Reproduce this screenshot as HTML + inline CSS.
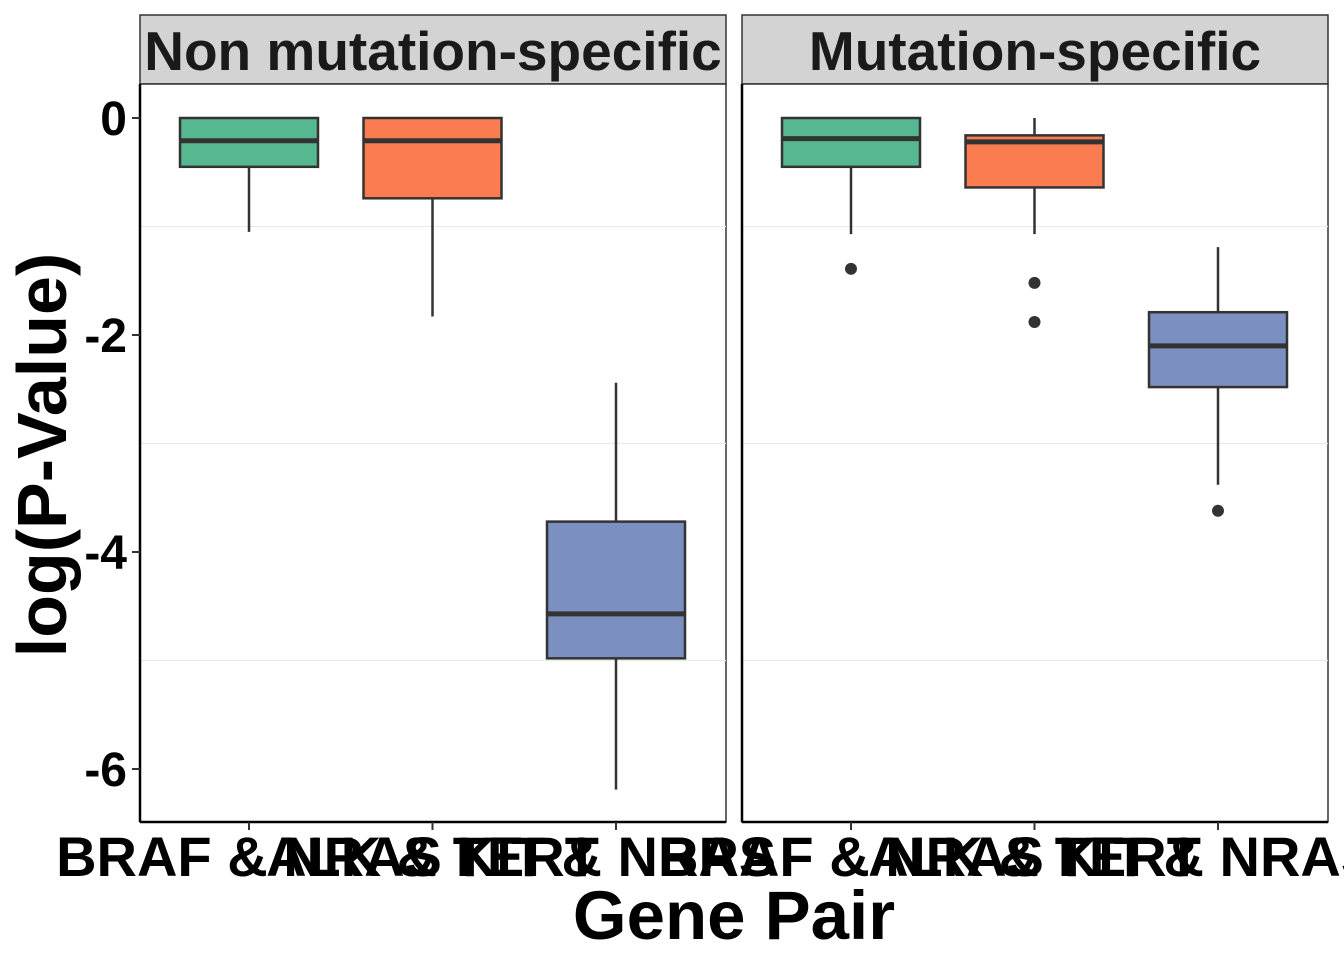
<!DOCTYPE html>
<html><head><meta charset="utf-8"><style>
body{margin:0;background:#fff}
svg{display:block;font-family:"Liberation Sans",Arial,sans-serif;font-weight:bold}
</style></head><body>
<svg id="c" width="1344" height="960"></svg>
<script>
const panels = ["Non mutation-specific", "Mutation-specific"];
const categories = ["BRAF & NRAS", "ALK & TERT", "KIT & NRAS"];
const colors = ["#56b891", "#fa7c50", "#7b8fc1"];
// per panel: [lowWhisker, q1, median, q3, highWhisker]
const statsP1 = [[-1.05,-0.45,-0.21,0,0],[-1.83,-0.74,-0.21,0,0],[-6.19,-4.98,-4.57,-3.72,-2.44]];
const statsP2 = [[-1.07,-0.45,-0.19,0,0],[-1.07,-0.64,-0.22,-0.16,0],[-3.38,-2.48,-2.1,-1.79,-1.19]];
const outliersP1 = [[],[],[]];
const outliersP2 = [[-1.39],[-1.52,-1.88],[-3.62]];
const yTicks = [0,-2,-4,-6];
const yMinor = [-1,-3,-5];

const NS="http://www.w3.org/2000/svg", svgEl=document.getElementById('c');
function mk(t,a,p){const e=document.createElementNS(NS,t);for(const k in a)e.setAttribute(k,a[k]);(p||svgEl).appendChild(e);return e;}
const yS=v=>118-v*108.5;
const pX=[140,742], pW=586, plotTop=84, plotBot=822;
const allStats=[statsP1,statsP2], allOut=[outliersP1,outliersP2];
panels.forEach((name,pi)=>{
  const x0=pX[pi];
  const g=mk('g',{});
  
  
  const strip=mk('rect',{x:x0,y:15,width:pW,height:69,fill:'#d3d3d3',stroke:'#333','stroke-width':1.5},g);
  
  
  const st=mk('text',{x:x0+pW/2,y:70,'text-anchor':'middle','font-size':55,fill:'#1a1a1a'},g);
  st.textContent=name;
  
  
  mk('rect',{x:x0,y:plotTop,width:pW,height:plotBot-plotTop,fill:'#fff',stroke:'#333','stroke-width':1.5},g);
  yMinor.forEach(v=>mk('line',{x1:x0,x2:x0+pW,y1:yS(v),y2:yS(v),stroke:'#ebebeb','stroke-width':1.2},g));
  mk('line',{x1:x0,x2:x0,y1:plotTop,y2:plotBot,stroke:'#000','stroke-width':2.5},g);
  mk('line',{x1:x0,x2:x0+pW,y1:plotBot,y2:plotBot,stroke:'#000','stroke-width':2.5},g);
  const xS=i=>x0+109+i*183.5;
  categories.forEach((c,i)=>{
    const s=allStats[pi][i], cx=xS(i), w=138;
    mk('line',{x1:cx,x2:cx,y1:yS(s[4]),y2:yS(s[3]),stroke:'#333','stroke-width':2.5},g);
    mk('line',{x1:cx,x2:cx,y1:yS(s[1]),y2:yS(s[0]),stroke:'#333','stroke-width':2.5},g);
    const b=mk('rect',{x:cx-w/2,y:yS(s[3]),width:w,height:yS(s[1])-yS(s[3]),fill:colors[i],stroke:'#333','stroke-width':2.5},g);
    
    
    mk('line',{x1:cx-w/2,x2:cx+w/2,y1:yS(s[2]),y2:yS(s[2]),stroke:'#333','stroke-width':5},g);
    allOut[pi][i].forEach(o=>{const d=mk('circle',{cx:cx,cy:yS(o),r:6,fill:'#333'},g);
      
      });
    mk('line',{x1:cx,x2:cx,y1:plotBot,y2:plotBot+8,stroke:'#333','stroke-width':2},g);
    const t=mk('text',{x:cx,y:876,'text-anchor':'middle','font-size':56,fill:'#000'},g);
    t.textContent=c;
    
    
  });
});
yTicks.forEach(v=>{
  mk('line',{x1:132,x2:140,y1:yS(v),y2:yS(v),stroke:'#333','stroke-width':2});
  const t=mk('text',{x:127,y:yS(v)+17,'text-anchor':'end','font-size':48,fill:'#000'});
  t.textContent=v===0?'0':String(v);
  
  
});
const xt=mk('text',{x:734,y:939,'text-anchor':'middle','font-size':69,fill:'#000'});
xt.textContent='Gene Pair';


const yt=mk('text',{x:0,y:0,'text-anchor':'middle','font-size':70,fill:'#000',transform:'translate(66,455) rotate(-90)'});
yt.textContent='log(P-Value)';


</script>
</body></html>
